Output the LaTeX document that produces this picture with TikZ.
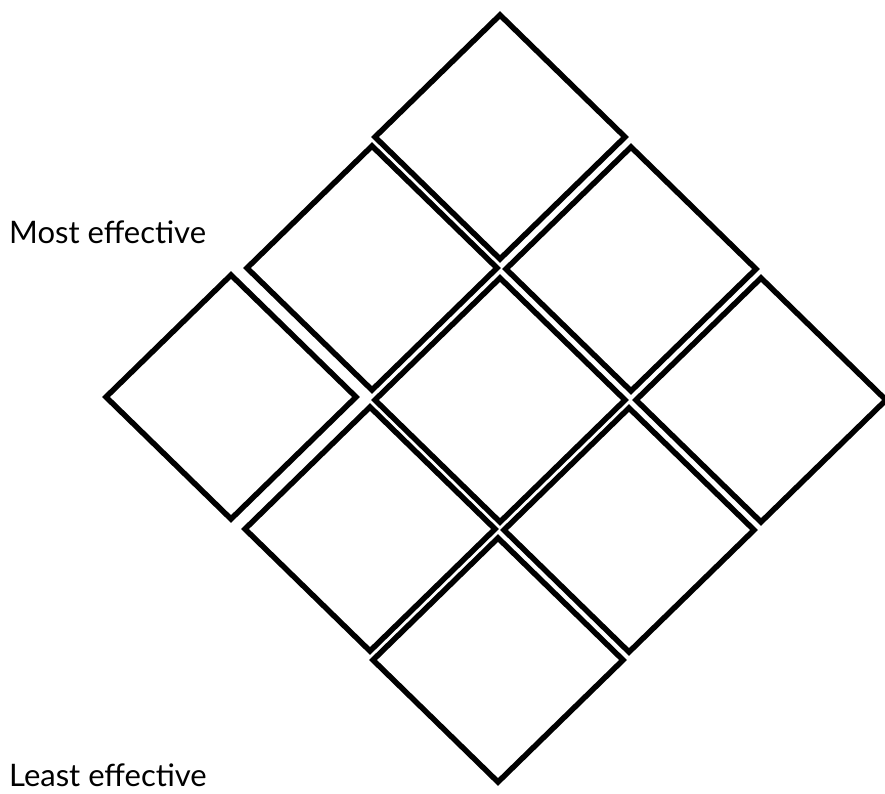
\documentclass[tikz,border=0pt]{standalone}
\usepackage{fontspec}
\setmainfont{Lato}
\usetikzlibrary{shapes.geometric}
\begin{document}
\begin{tikzpicture}[x=1pt,y=-1pt,
  cell/.style={diamond,draw=black,line width=5.5pt,minimum width=250pt,minimum height=244pt,inner sep=0pt,outer sep=0pt,fill=white},
  lbl/.style={anchor=base west,inner sep=0pt,font=\fontsize{31}{36}\selectfont}]
\useasboundingbox (0,0) rectangle (885,793);
\node[cell] (t)  at (500,137) {};
\node[cell] (tl) at (372,268) {};
\node[cell] (tr) at (631,269) {};
\node[cell] (l)  at (231,397) {};
\node[cell] (c)  at (500,400) {};
\node[cell] (r)  at (761,400) {};
\node[cell] (bl) at (370,529) {};
\node[cell] (br) at (629,530) {};
\node[cell] (b)  at (498,660) {};
\node[lbl] (most) at (9,243) {Most effective};
\node[lbl] (least) at (9,786) {Least effective};
\end{tikzpicture}
\end{document}
